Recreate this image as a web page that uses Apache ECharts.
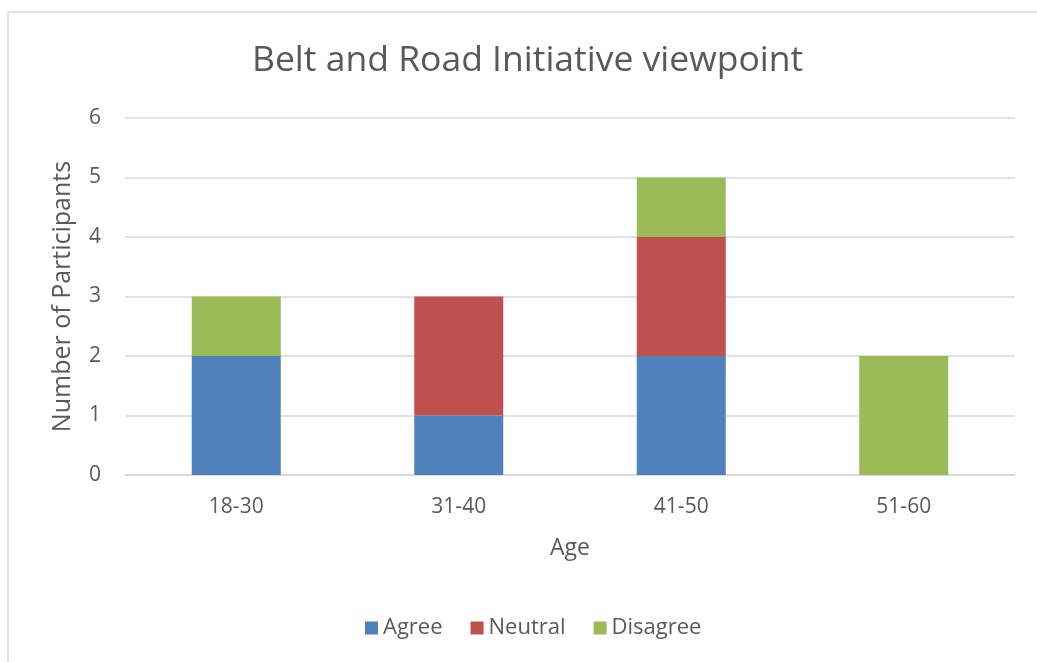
<!DOCTYPE html>
<html>
<head>
<meta charset="utf-8">
<script src="https://cdn.jsdelivr.net/npm/echarts@6/dist/echarts.min.js"></script>
<style>
  html, body { margin: 0; padding: 0; background: #fff; }
  #chart { width: 1037px; height: 662px; }
</style>
</head>
<body>
<div id="chart"></div>
<script>
// Age groups and participant counts per response
const ageGroups = ['18-30', '31-40', '41-50', '51-60'];
const agree = [2, 1, 2, 0];
const neutral = [0, 2, 2, 0];
const disagree = [1, 0, 1, 2];
const yTicks = [0, 1, 2, 3, 4, 5, 6];

const FONT = '"Open Sans", "Noto Sans", sans-serif';
const TEXT = '#595959';

const chart = echarts.init(document.getElementById('chart'));

function stackSeries(name, values, color) {
  return {
    name: name,
    type: 'bar',
    stack: 'total',
    data: values,
    barWidth: '40%',
    itemStyle: { color: color },
    emphasis: { disabled: true }
  };
}

chart.setOption({
  animation: false,
  textStyle: { fontFamily: FONT },
  graphic: [{
    type: 'rect',
    shape: { x: 8, y: 12, width: 1100, height: 700 },
    style: { fill: 'none', stroke: '#d9d9d9', lineWidth: 1.5 },
    silent: true
  }],
  title: {
    text: 'Belt and Road Initiative viewpoint',
    left: 247,
    top: 38,
    textStyle: { fontFamily: FONT, fontSize: 35.5, fontWeight: 'normal', color: TEXT }
  },
  legend: {
    bottom: 18,
    left: 360,
    itemWidth: 13,
    itemHeight: 13,
    itemGap: 28,
    icon: 'rect',
    textStyle: { fontFamily: FONT, fontSize: 22, color: TEXT },
    data: ['Agree', 'Neutral', 'Disagree']
  },
  grid: { left: 125, right: 22, top: 118, bottom: 187 },
  xAxis: {
    type: 'category',
    data: ageGroups,
    name: 'Age',
    nameLocation: 'middle',
    nameGap: 62,
    nameTextStyle: { fontFamily: FONT, fontSize: 23, color: TEXT },
    axisLine: { lineStyle: { color: '#d9d9d9', width: 1.5 } },
    axisTick: { show: false },
    axisLabel: { fontFamily: FONT, fontSize: 21, color: TEXT, margin: 22 }
  },
  yAxis: {
    type: 'value',
    min: yTicks[0],
    max: yTicks[yTicks.length - 1],
    interval: 1,
    name: 'Number of Participants',
    nameLocation: 'middle',
    nameGap: 50,
    nameTextStyle: { fontFamily: FONT, fontSize: 25, color: TEXT },
    axisLine: { show: false },
    axisTick: { show: false },
    axisLabel: { fontFamily: FONT, fontSize: 21, color: TEXT, margin: 24 },
    splitLine: { lineStyle: { color: '#d9d9d9', width: 1.5 } }
  },
  series: [
    stackSeries('Agree', agree, '#4f81bd'),
    stackSeries('Neutral', neutral, '#c0504d'),
    stackSeries('Disagree', disagree, '#9bbb59')
  ]
});
</script>
</body>
</html>
